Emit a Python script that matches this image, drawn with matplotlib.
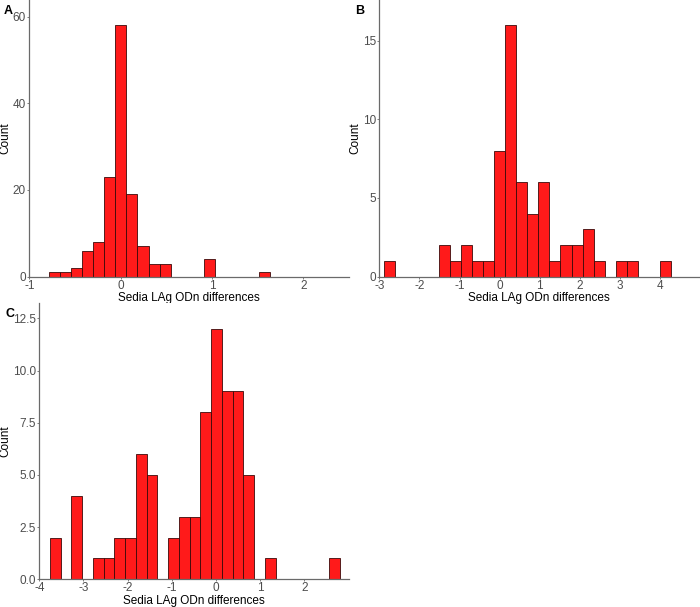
import numpy as np
import matplotlib
matplotlib.use("Agg")
import matplotlib.pyplot as plt

plt.rcParams['font.family'] = ['Liberation Sans', 'DejaVu Sans']

# ---- data ----
xlabel_text = "Sedia LAg ODn differences"
ylabel_text = "Count"

# Panel A
a_bin_start = -0.786
a_bin_width = 0.1213
a_counts = [1, 1, 2, 6, 8, 23, 58, 19, 7, 3, 3, 0, 0, 0, 4, 0, 0, 0, 0, 1]
a_xticks = [-1, 0, 1, 2]
a_yticks = [0, 20, 40, 60]
a_xlim = (-1.0, 2.505)
a_ylim = (0, 63.86)

# Panel B
b_bin_start = -2.875
b_bin_width = 0.2746
b_counts = [1, 0, 0, 0, 0, 2, 1, 2, 1, 1, 8, 16, 6, 4, 6, 1, 2, 2, 3, 1,
            0, 1, 1, 0, 0, 1]
b_xticks = [-3, -2, -1, 0, 1, 2, 3, 4]
b_yticks = [0, 5, 10, 15]
b_xlim = (-2.97, 4.98)
b_ylim = (0, 17.6)

# Panel C
c_bin_start = -3.758
c_bin_width = 0.2432
c_counts = [2, 0, 4, 0, 1, 1, 2, 2, 6, 5, 0, 2, 3, 3, 8, 12, 9, 9, 5, 0,
            1, 0, 0, 0, 0, 0, 1]
c_xticks = [-4, -3, -2, -1, 0, 1, 2]
c_yticks = [0.0, 2.5, 5.0, 7.5, 10.0, 12.5]
c_ylabels = ["0.0", "2.5", "5.0", "7.5", "10.0", "12.5"]
c_xlim = (-4.0, 3.018)
c_ylim = (0, 13.22)

FILL = '#FF1A1A'
EDGE = '#3a0a0a'
AXC = '#6a6a6a'
TICKC = '#4D4D4D'
FS = 8.5

fig = plt.figure(figsize=(7.0, 6.07), dpi=100)

def make_panel(rect, start, width, counts, xticks, yticks, xlim, ylim,
               ylabels=None, xlab_y=-0.0761, ylab_x=-0.076):
    ax = fig.add_axes(rect)
    counts = np.array(counts)
    edges = start + width * np.arange(len(counts))
    mask = counts > 0
    ax.bar(edges[mask], counts[mask], width=width, align='edge',
           color=FILL, edgecolor=EDGE, linewidth=0.6)
    ax.set_xlim(*xlim)
    ax.set_ylim(*ylim)
    ax.set_xticks(xticks)
    ax.set_xticklabels([str(t) for t in xticks])
    ax.set_yticks(yticks)
    if ylabels is not None:
        ax.set_yticklabels(ylabels)
    else:
        ax.set_yticklabels([str(t) for t in yticks])
    for s in ['top', 'right']:
        ax.spines[s].set_visible(False)
    for s in ['left', 'bottom']:
        ax.spines[s].set_color(AXC)
        ax.spines[s].set_linewidth(0.9)
    ax.tick_params(axis='x', length=1.6, width=0.6, color=AXC, pad=0.6,
                   labelsize=FS, labelcolor=TICKC)
    ax.tick_params(axis='y', length=1.6, width=0.6, color=AXC, pad=0.8,
                   labelsize=FS, labelcolor=TICKC)
    ax.set_xlabel(xlabel_text, fontsize=FS, color='black')
    ax.xaxis.label.set_va('center')
    ax.xaxis.set_label_coords(0.5, xlab_y)
    ax.set_ylabel(ylabel_text, fontsize=FS, color='black')
    ax.yaxis.label.set_va('center')
    ax.yaxis.set_label_coords(ylab_x, 0.5)
    return ax

W, H = 700.0, 607.0
make_panel([29.3 / W, 1 - 276.5 / H, 320 / W, 276.5 / H],
           a_bin_start, a_bin_width, a_counts, a_xticks, a_yticks, a_xlim, a_ylim)
make_panel([379.3 / W, 1 - 276.5 / H, 320 / W, 276.5 / H],
           b_bin_start, b_bin_width, b_counts, b_xticks, b_yticks, b_xlim, b_ylim)
make_panel([39.3 / W, 1 - 579.3 / H, 310 / W, 276 / H],
           c_bin_start, c_bin_width, c_counts, c_xticks, c_yticks, c_xlim, c_ylim,
           ylabels=c_ylabels, xlab_y=-0.0786, ylab_x=-0.1106)

fig.text(4 / W, 1 - 10.5 / H, "A", fontsize=9, fontweight='bold', ha='left', va='center')
fig.text(355 / W, 1 - 10.5 / H, "B", fontsize=9, fontweight='bold', ha='left', va='center')
fig.text(6 / W, 1 - 314 / H, "C", fontsize=9, fontweight='bold', ha='left', va='center')

fig.savefig("out.png", dpi=100)
